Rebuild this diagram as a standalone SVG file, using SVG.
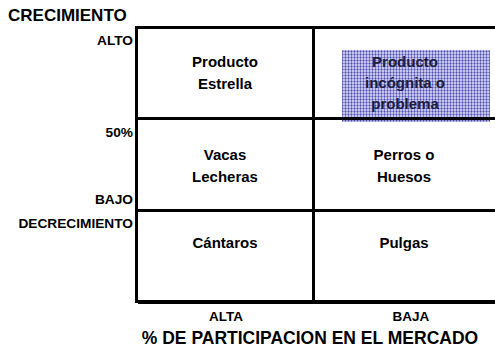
<svg xmlns="http://www.w3.org/2000/svg" width="495" height="347" viewBox="0 0 495 347">
  <style>
    text { font-family: "Liberation Sans", Arial, sans-serif; font-weight: bold; fill: #000; }
    .axis { font-size: 13.7px; text-anchor: end; }
    .cell { font-size: 15px; text-anchor: middle; }
    .cell-dark { font-size: 15px; text-anchor: middle; fill: #1c1c40; }
    .grid line { stroke: #000; stroke-width: 3; }
  </style>
  <defs>
    <pattern id="dots" width="3" height="3" patternUnits="userSpaceOnUse">
      <rect width="3" height="3" fill="#c4c4ec"/>
      <rect width="1" height="3" fill="#8080cc"/>
      <rect width="3" height="1" fill="#9090d4"/>
      <rect width="1" height="1" fill="#5050ac"/>
    </pattern>
  </defs>
  <rect width="495" height="347" fill="#fff"/>

  <g id="axis-labels">
    <text x="8" y="21" style="font-size:17px">CRECIMIENTO</text>
    <text class="axis" x="133" y="45">ALTO</text>
    <text class="axis" x="133" y="137">50%</text>
    <text class="axis" x="133" y="204">BAJO</text>
    <text class="axis" x="133" y="228">DECRECIMIENTO</text>
    <text x="226" y="321" style="font-size:13.5px;text-anchor:middle">ALTA</text>
    <text x="411" y="321" style="font-size:13.5px;text-anchor:middle">BAJA</text>
    <text x="310" y="344" style="font-size:17.5px;text-anchor:middle">% DE PARTICIPACION EN EL MERCADO</text>
  </g>

  <g id="cell-estrella">
    <text class="cell" x="225" y="67">Producto</text>
    <text class="cell" x="225" y="89">Estrella</text>
  </g>
  <g id="cell-incognita">
    <rect x="342" y="50" width="148" height="72" fill="url(#dots)"/>
    <text class="cell-dark" x="405" y="67">Producto</text>
    <text class="cell-dark" x="405" y="88">incógnita o</text>
    <text class="cell-dark" x="405" y="109">problema</text>
  </g>
  <g id="cell-vacas">
    <text class="cell" x="225" y="160">Vacas</text>
    <text class="cell" x="225" y="182">Lecheras</text>
  </g>
  <g id="cell-perros">
    <text class="cell" x="404" y="160">Perros o</text>
    <text class="cell" x="404" y="182">Huesos</text>
  </g>
  <g id="cell-cantaros">
    <text class="cell" x="225" y="248">Cántaros</text>
  </g>
  <g id="cell-pulgas">
    <text class="cell" x="404" y="248">Pulgas</text>
  </g>

  <g id="connectors" class="grid">
    <line x1="135" y1="27.5" x2="495" y2="27.5"/>
    <line x1="136.5" y1="26" x2="136.5" y2="303"/>
    <line x1="136.5" y1="118.5" x2="495" y2="118.5"/>
    <line x1="136.5" y1="210.5" x2="495" y2="210.5"/>
    <line x1="313.5" y1="27.5" x2="313.5" y2="302"/>
    <line x1="138" y1="302" x2="495" y2="302" style="stroke-width:4"/>
  </g>
</svg>
